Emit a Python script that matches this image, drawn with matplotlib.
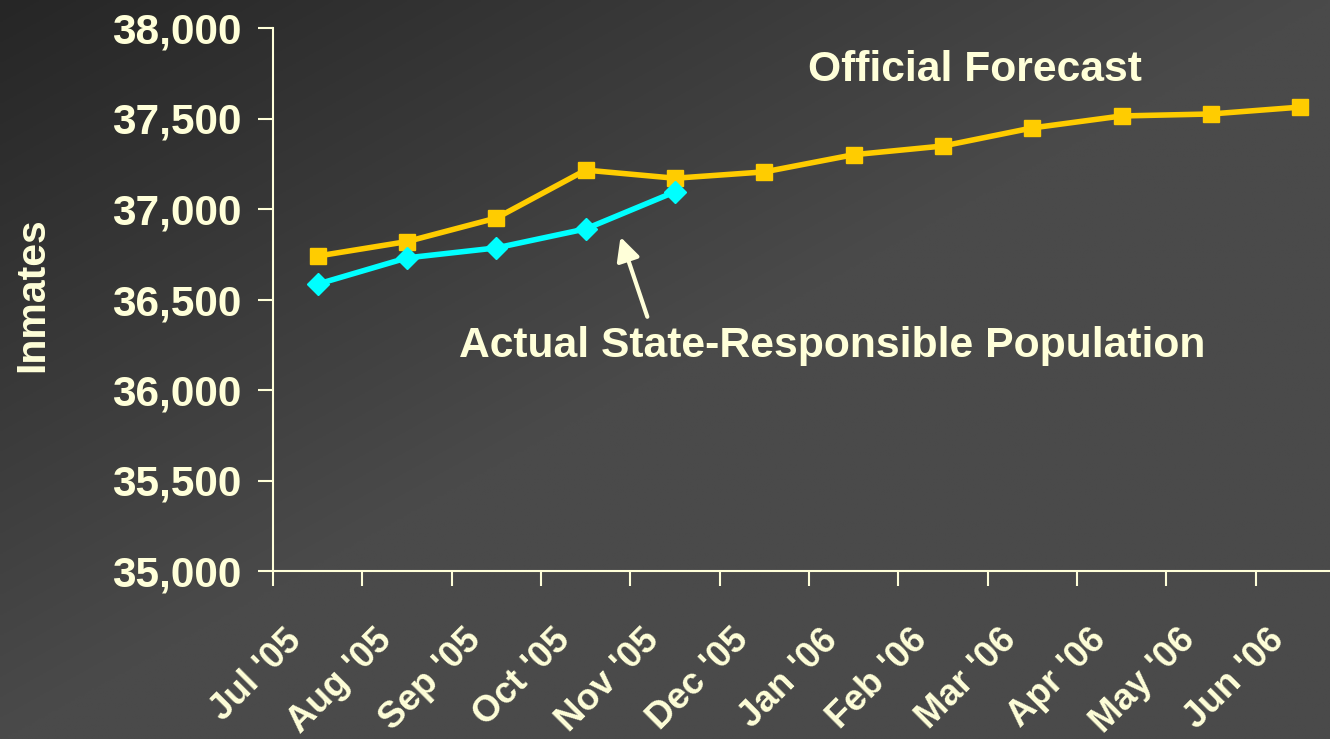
import numpy as np
import matplotlib
matplotlib.use("Agg")
import matplotlib.pyplot as plt
from matplotlib.ticker import FuncFormatter
from matplotlib.transforms import ScaledTranslation

months = ["Jul '05", "Aug '05", "Sep '05", "Oct '05", "Nov '05", "Dec '05",
          "Jan '06", "Feb '06", "Mar '06", "Apr '06", "May '06", "Jun '06"]
forecast = [36740, 36820, 36950, 37215, 37170, 37205,
            37300, 37348, 37448, 37514, 37525, 37563]
actual = [36585, 36730, 36785, 36890, 37095]

text_c = '#FFFFD9'
yellow = '#FFCC00'
cyan = '#00FFFF'

plt.rcParams['font.family'] = ['Liberation Sans', 'DejaVu Sans']
plt.rcParams['font.weight'] = 'bold'

fig = plt.figure(figsize=(13.3, 7.39), dpi=100)

# background gradient, dark in the upper left corner
bg = fig.add_axes([0, 0, 1, 1], zorder=0)
gx, gy = np.meshgrid(np.linspace(0, 1, 400), np.linspace(0, 1, 300))
t = np.clip((gx + gy) / 1.0, 0, 1)
shade = (0x26 + (0x4a - 0x26) * t) / 255.0
bg.imshow(np.dstack([shade, shade, shade]), aspect='auto', extent=[0, 1, 1, 0])
bg.set_xlim(0, 1)
bg.set_ylim(1, 0)
bg.axis('off')

ax = fig.add_axes([273 / 1330, 1 - 571 / 739, 1072 / 1330, 543 / 739], zorder=1)
ax.patch.set_alpha(0)

x = np.arange(len(months))
ax.plot(x, forecast, color=yellow, lw=4, marker='s', ms=12, zorder=3)
ax.plot(x[:len(actual)], actual, color=cyan, lw=4, marker='D', ms=11.5, zorder=4)

ax.set_xlim(-0.5, len(months) - 0.5)
ax.set_ylim(35000, 38000)
ax.set_yticks(np.arange(35000, 38001, 500))
ax.yaxis.set_major_formatter(FuncFormatter(lambda v, p: f'{int(v):,}'))

ax.set_xticks(x)
ax.set_xticklabels(months, rotation=45, ha='right', va='center', rotation_mode='anchor')
ax.set_xticks(np.arange(-0.5, len(months), 1), minor=True)
ax.tick_params(axis='x', which='major', length=0, pad=46, labelsize=26.5, labelcolor=text_c)
ax.tick_params(axis='x', which='minor', length=11, width=1.5, color=text_c, direction='out')
ax.tick_params(axis='y', length=11, width=1.5, color=text_c, labelsize=30.5, labelcolor=text_c, pad=12)
shift = ScaledTranslation(-0.21, 0, fig.dpi_scale_trans)
for lab in ax.get_xticklabels():
    lab.set_transform(lab.get_transform() + shift)

for s in ['top', 'right']:
    ax.spines[s].set_visible(False)
for s in ['left', 'bottom']:
    ax.spines[s].set_color(text_c)
    ax.spines[s].set_linewidth(1.5)

fig.text(32 / 1330, 1 - 295 / 739, 'Inmates', rotation=90, ha='center', va='center',
         fontsize=29.5, color=text_c, fontweight='bold')

ax.text(7.36, 37768, 'Official Forecast', ha='center', va='center',
        fontsize=30.7, color=text_c, fontweight='bold')
ax.text(5.76, 36243, 'Actual State-Responsible Population', ha='center', va='center',
        fontsize=30.7, color=text_c, fontweight='bold')
ax.annotate('', xy=(3.38, 36860), xytext=(3.70, 36390),
            arrowprops=dict(arrowstyle='-|>,head_length=1.4,head_width=0.7',
                            lw=3, color=text_c))

fig.savefig('out.png', dpi=100, facecolor='#444444')
